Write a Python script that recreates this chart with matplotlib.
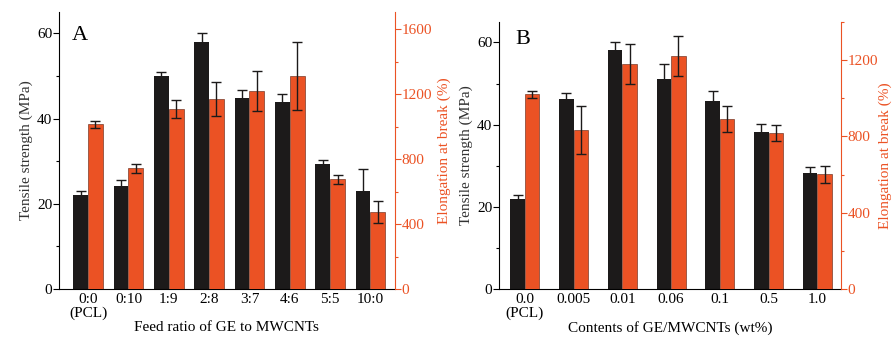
import numpy as np
import matplotlib.pyplot as plt
from matplotlib.ticker import MultipleLocator

plt.rcParams['font.family'] = ['Liberation Serif', 'DejaVu Serif']

ORANGE = "#EB5224"
BLACK = "#1c1a1a"

# panel A: feed ratio of GE to MWCNTs
ratio_labels = ["0:0\n(PCL)", "0:10", "1:9", "2:8", "3:7", "4:6", "5:5", "10:0"]
ratio_ts = [22.1, 24.2, 49.9, 57.9, 44.8, 43.8, 29.3, 23.0]
ratio_ts_err = [0.9, 1.3, 1.0, 2.1, 1.9, 2.0, 0.9, 5.1]
ratio_eb = [1015, 743, 1109, 1170, 1220, 1310, 676, 474]
ratio_eb_err = [20, 30, 55, 105, 124, 210, 27, 67]

# panel B: contents of GE/MWCNTs (wt%)
content_labels = ["0.0\n(PCL)", "0.005", "0.01", "0.06", "0.1", "0.5", "1.0"]
content_ts = [22.0, 46.2, 58.1, 51.0, 45.7, 38.1, 28.3]
content_ts_err = [0.9, 1.4, 1.9, 3.8, 2.6, 2.1, 1.4]
content_eb = [1020, 834, 1179, 1221, 893, 819, 601]
content_eb_err = [18, 125, 105, 103, 68, 42, 45]

fig = plt.figure(figsize=(8.95, 3.42), dpi=100)


def panel(rect, labels, ts, ts_err, eb, eb_err, width, xlim, ylim2, yticks2,
          letter, letter_xy, xlabel, rpad):
    ax = fig.add_axes(rect)
    ax2 = ax.twinx()
    x = np.arange(len(labels))
    ekw = dict(ecolor=BLACK, elinewidth=1, capthick=1)
    ax.bar(x - width / 2, ts, width, color=BLACK, yerr=ts_err, capsize=3.5,
           error_kw=ekw, zorder=2)
    ax2.bar(x + width / 2, eb, width, color=ORANGE, edgecolor="#5a2010",
            linewidth=0.4, yerr=eb_err, capsize=3.5, error_kw=ekw, zorder=2)

    ax.set_xlim(*xlim)
    ax.set_ylim(0, 65)
    ax.set_yticks([0, 20, 40, 60])
    ax.yaxis.set_minor_locator(MultipleLocator(10))
    ax2.set_ylim(0, ylim2)
    ax2.set_yticks(yticks2)
    ax2.yaxis.set_minor_locator(MultipleLocator(200))

    ax.set_xticks(x)
    ax.set_xticklabels(labels, fontsize=11, linespacing=1.0)
    ax.tick_params(axis='x', length=0, pad=3)
    ax.tick_params(axis='y', which='major', length=4, width=0.8, labelsize=11,
                   pad=1)
    ax.tick_params(axis='y', which='minor', length=2.5, width=0.8)
    ax2.tick_params(axis='y', which='major', length=4, width=0.8,
                    labelsize=11, colors=ORANGE, pad=1)
    ax2.tick_params(axis='y', which='minor', length=2.5, width=0.8,
                    colors=ORANGE)

    for a in (ax, ax2):
        a.spines['top'].set_visible(False)
    ax.spines['right'].set_visible(False)
    ax2.spines['left'].set_visible(False)
    ax2.spines['bottom'].set_visible(False)
    ax2.spines['right'].set_color(ORANGE)
    ax.spines['left'].set_linewidth(0.8)
    ax.spines['bottom'].set_linewidth(0.8)
    ax2.spines['right'].set_linewidth(0.8)

    ax.set_ylabel("Tensile strength (MPa)", fontsize=11, color="#333333",
                  labelpad=3)
    ax2.set_ylabel("Elongation at break (%)", fontsize=11, color=ORANGE,
                   labelpad=rpad)
    ax.set_xlabel(xlabel, fontsize=11, labelpad=1)
    ax.text(letter_xy[0], letter_xy[1], letter, transform=ax.transAxes,
            fontsize=16, va='center', ha='left')


panel([0.066, 0.155, 0.375, 0.81], ratio_labels, ratio_ts, ratio_ts_err,
      ratio_eb, ratio_eb_err, 0.365, (-0.72, 7.6), 1707, [0, 400, 800, 1200, 1600],
      "A", (0.038, 0.915), "Feed ratio of GE to MWCNTs", 4)
panel([0.558, 0.155, 0.3815, 0.781], content_labels, content_ts,
      content_ts_err, content_eb, content_eb_err, 0.297, (-0.52, 6.48), 1400,
      [0, 400, 800, 1200], "B", (0.048, 0.935),
      "Contents of GE/MWCNTs (wt%)", 0.5)

fig.savefig("out.png", dpi=100)
